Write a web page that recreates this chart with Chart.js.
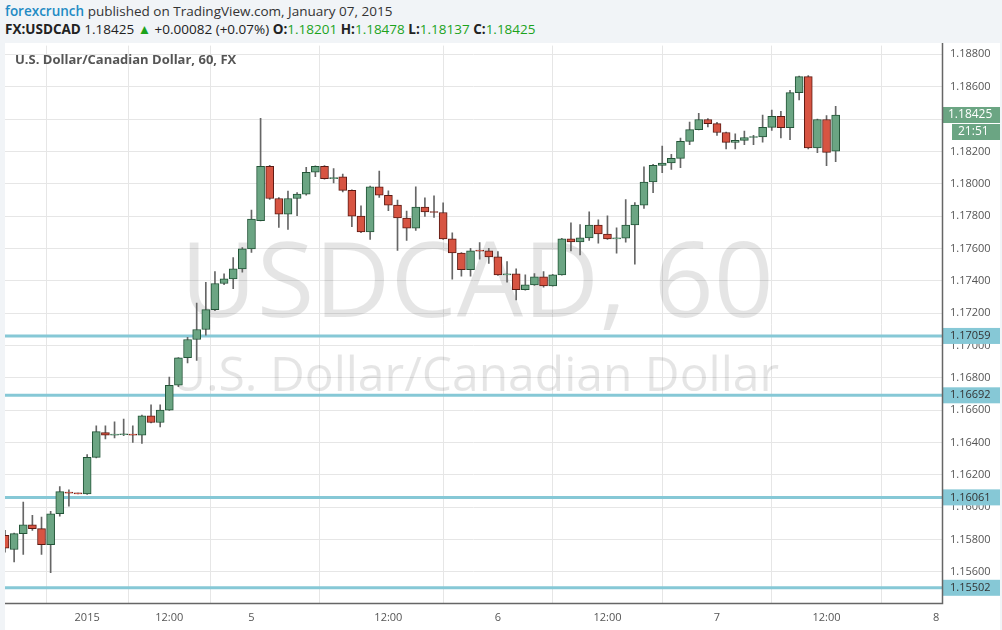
<!DOCTYPE html>
<html><head><meta charset="utf-8">
<script src="https://cdn.jsdelivr.net/npm/chart.js@4.4.1/dist/chart.umd.min.js"></script>
<style>
body{margin:0;background:#f1f4f7;width:1002px;height:630px;overflow:hidden;font-family:"Open Sans",Lato,sans-serif;}
#h1{position:absolute;left:5px;top:2px;font-size:13.5px;color:#333;}
#h1 b{color:#1f8bc4;font-weight:600;}
#h2{position:absolute;left:5px;top:20px;font-size:13.5px;color:#222;}
#h2 .g{color:#1ca31c;}
#box{position:absolute;left:5px;top:43px;width:995px;height:587px;background:#fff;overflow:hidden;}
#c{position:absolute;left:0;top:-12px;}
</style></head><body>
<div id="h1"><b>forexcrunch</b> published on TradingView.com, January 07, 2015</div>
<div id="h2"><b>FX:USDCAD</b> 1.18425 <span class="g">&#9650;</span> +0.00082 (+0.07%) <b>O:</b><span class="g">1.18201</span> <b>H:</b><span class="g">1.18478</span> <b>L:</b><span class="g">1.18137</span> <b>C:</b><span class="g">1.18425</span></div>
<div id="box"><canvas id="c" width="995" height="599"></canvas></div>
<script>
const openP=[1.15827,1.15739,1.15837,1.15892,1.15868,1.15769,1.15960,1.16093,1.16087,1.16083,1.16308,1.16462,1.16446,1.16448,1.16452,1.16446,1.16565,1.16524,1.16600,1.16754,1.16924,1.17037,1.17099,1.17222,1.17383,1.17412,1.17474,1.17597,1.17771,1.18108,1.17909,1.17812,1.17909,1.17936,1.18071,1.18108,1.18032,1.18042,1.17959,1.17800,1.17702,1.17981,1.17929,1.17868,1.17788,1.17726,1.17856,1.17826,1.17822,1.17659,1.17572,1.17468,1.17587,1.17585,1.17548,1.17437,1.17443,1.17345,1.17375,1.17425,1.17369,1.17437,1.17659,1.17640,1.17665,1.17745,1.17689,1.17659,1.17663,1.17745,1.17868,1.18011,1.18114,1.18128,1.18157,1.18262,1.18335,1.18397,1.18372,1.18317,1.18256,1.18268,1.18286,1.18290,1.18348,1.18416,1.18346,1.18563,1.18662,1.18222,1.18397,1.18201];
const highP=[1.15857,1.15840,1.16032,1.15950,1.15939,1.15974,1.16128,1.16108,1.16088,1.16325,1.16504,1.16504,1.16528,1.16545,1.16504,1.16570,1.16633,1.16633,1.16805,1.16926,1.17051,1.17262,1.17390,1.17457,1.17443,1.17544,1.17605,1.17837,1.18405,1.18114,1.17915,1.17954,1.17945,1.18101,1.18110,1.18112,1.18093,1.18059,1.17962,1.17864,1.17985,1.18079,1.17956,1.17899,1.17831,1.17981,1.17913,1.17925,1.17882,1.17697,1.17575,1.17601,1.17636,1.17601,1.17580,1.17519,1.17474,1.17437,1.17445,1.17457,1.17440,1.17662,1.17759,1.17747,1.17827,1.17777,1.17802,1.17728,1.17902,1.17884,1.18104,1.18120,1.18233,1.18182,1.18282,1.18381,1.18436,1.18403,1.18379,1.18320,1.18309,1.18325,1.18299,1.18425,1.18456,1.18448,1.18577,1.18665,1.18668,1.18400,1.18422,1.18478];
const lowP=[1.15722,1.15662,1.15708,1.15857,1.15708,1.15595,1.15945,1.16007,1.16082,1.16080,1.16305,1.16422,1.16428,1.16442,1.16401,1.16395,1.16522,1.16497,1.16598,1.16746,1.16893,1.16908,1.17064,1.17216,1.17376,1.17351,1.17453,1.17576,1.17770,1.17903,1.17730,1.17718,1.17802,1.17930,1.18044,1.18028,1.18005,1.17950,1.17734,1.17698,1.17656,1.17915,1.17833,1.17587,1.17650,1.17712,1.17798,1.17792,1.17655,1.17410,1.17428,1.17428,1.17533,1.17507,1.17433,1.17392,1.17281,1.17342,1.17372,1.17361,1.17366,1.17434,1.17585,1.17560,1.17650,1.17632,1.17656,1.17570,1.17638,1.17502,1.17847,1.17945,1.18069,1.18089,1.18099,1.18241,1.18333,1.18352,1.18299,1.18216,1.18216,1.18241,1.18241,1.18257,1.18329,1.18284,1.18272,1.18518,1.18216,1.18192,1.18112,1.18137];
const closeP=[1.15747,1.15837,1.15892,1.15868,1.15769,1.15960,1.16097,1.16087,1.16083,1.16308,1.16467,1.16446,1.16448,1.16454,1.16446,1.16565,1.16524,1.16600,1.16754,1.16924,1.17037,1.17099,1.17222,1.17383,1.17412,1.17474,1.17597,1.17782,1.18108,1.17909,1.17812,1.17909,1.17936,1.18070,1.18108,1.18032,1.18038,1.17959,1.17800,1.17702,1.17981,1.17929,1.17868,1.17788,1.17726,1.17856,1.17825,1.17822,1.17659,1.17572,1.17468,1.17585,1.17583,1.17548,1.17437,1.17441,1.17345,1.17375,1.17425,1.17369,1.17437,1.17659,1.17640,1.17665,1.17745,1.17689,1.17659,1.17663,1.17745,1.17868,1.18011,1.18114,1.18128,1.18157,1.18262,1.18335,1.18397,1.18372,1.18317,1.18256,1.18268,1.18286,1.18290,1.18348,1.18416,1.18346,1.18563,1.18662,1.18222,1.18397,1.18194,1.18425];
const xTickPos=[9,18,27,42,54,66,78,90,102];
const xTickLabels=["2015","12:00","5","12:00","6","12:00","7","12:00","8"];
const levels=[1.17059,1.16692,1.16061,1.15502];
const lastPrice=1.18425, lastTime="21:51";

const bodies=openP.map((o,i)=>({x:i,y:[o,closeP[i]]}));
const wicks=openP.map((o,i)=>({x:i,y:[lowP[i],highP[i]]}));
const up=openP.map((o,i)=>closeP[i]>=o);

const deco={id:'deco',
beforeDatasetsDraw(ch){const c=ch.ctx,a=ch.chartArea,y=ch.scales.y;
 c.save();c.fillStyle='rgba(0,0,0,0.1)';c.textAlign='center';c.textBaseline='middle';
 c.font='105px "Open Sans",sans-serif';c.fillText('USDCAD, 60',472,256);
 c.font='48px "Open Sans",sans-serif';c.fillText('U.S. Dollar/Canadian Dollar',470,346);
 c.textAlign='left';c.fillStyle='#555';c.font='bold 13px "Open Sans",sans-serif';c.fillText('U.S. Dollar/Canadian Dollar, 60, FX',10,29);
 c.strokeStyle='#86c8d6';c.lineWidth=3;
 levels.forEach(v=>{const p=y.getPixelForValue(v);c.beginPath();c.moveTo(a.left,p);c.lineTo(a.right,p);c.stroke();});
 c.restore();},
afterDraw(ch){const c=ch.ctx,a=ch.chartArea,y=ch.scales.y;c.save();
 c.font='11px "Open Sans",sans-serif';c.textBaseline='middle';
 levels.forEach(v=>{const p=y.getPixelForValue(v);c.fillStyle='#86c8d6';c.fillRect(a.right+1,p-8,57,16);c.fillStyle='#333';c.fillText(v.toFixed(5),a.right+8,p);});
 const p=y.getPixelForValue(lastPrice);c.fillStyle='#6ba583';c.fillRect(a.right+1,p-8,57,16);c.fillRect(a.right+10,p+9,48,16);
 c.fillStyle='#fff';c.font='12px "Open Sans",sans-serif';c.fillText(lastPrice.toFixed(5),a.right+6,p);c.fillText(lastTime,a.right+16,p+17);
 c.strokeStyle='#666';c.lineWidth=1.5;c.beginPath();c.moveTo(a.left,a.bottom+.5);c.lineTo(a.right+.5,a.bottom+.5);c.lineTo(a.right+.5,0);c.stroke();
 c.restore();}};

new Chart(document.getElementById('c'),{type:'bar',
data:{datasets:[
 {data:bodies,grouped:false,barThickness:8,minBarLength:1,borderSkipped:false,borderWidth:1,
  backgroundColor:up.map(u=>u?'#6ba583':'#d75442'),borderColor:up.map(u=>u?'#225437':'#5b1a13')},
 {data:wicks,grouped:false,barThickness:1,backgroundColor:'#666',borderWidth:0}
]},
options:{responsive:false,animation:false,layout:{padding:0},
 plugins:{legend:{display:false},tooltip:{enabled:false}},
 scales:{
  x:{type:'linear',min:0,max:102.65,offset:false,border:{display:false},
   grid:{color:'#e6e6e6',drawTicks:false},
   afterBuildTicks:s=>{s.ticks=xTickPos.map(v=>({value:v}));},
   afterFit:s=>{s.height=27;},
   ticks:{color:'#555',font:{size:11,family:'"Open Sans"'},padding:8,maxRotation:0,autoSkip:false,
    callback:v=>xTickLabels[xTickPos.indexOf(v)]}},
  y:{position:'right',min:1.15408,max:1.18854,border:{display:false},
   grid:{color:'#e6e6e6',drawTicks:false},
   afterFit:s=>{s.width=58;},
   ticks:{stepSize:0.002,includeBounds:false,color:'#555',font:{size:11,family:'"Open Sans"'},padding:8,
    callback:v=>Number(v).toFixed(5)}}
 }},
plugins:[deco]});
</script></body></html>
